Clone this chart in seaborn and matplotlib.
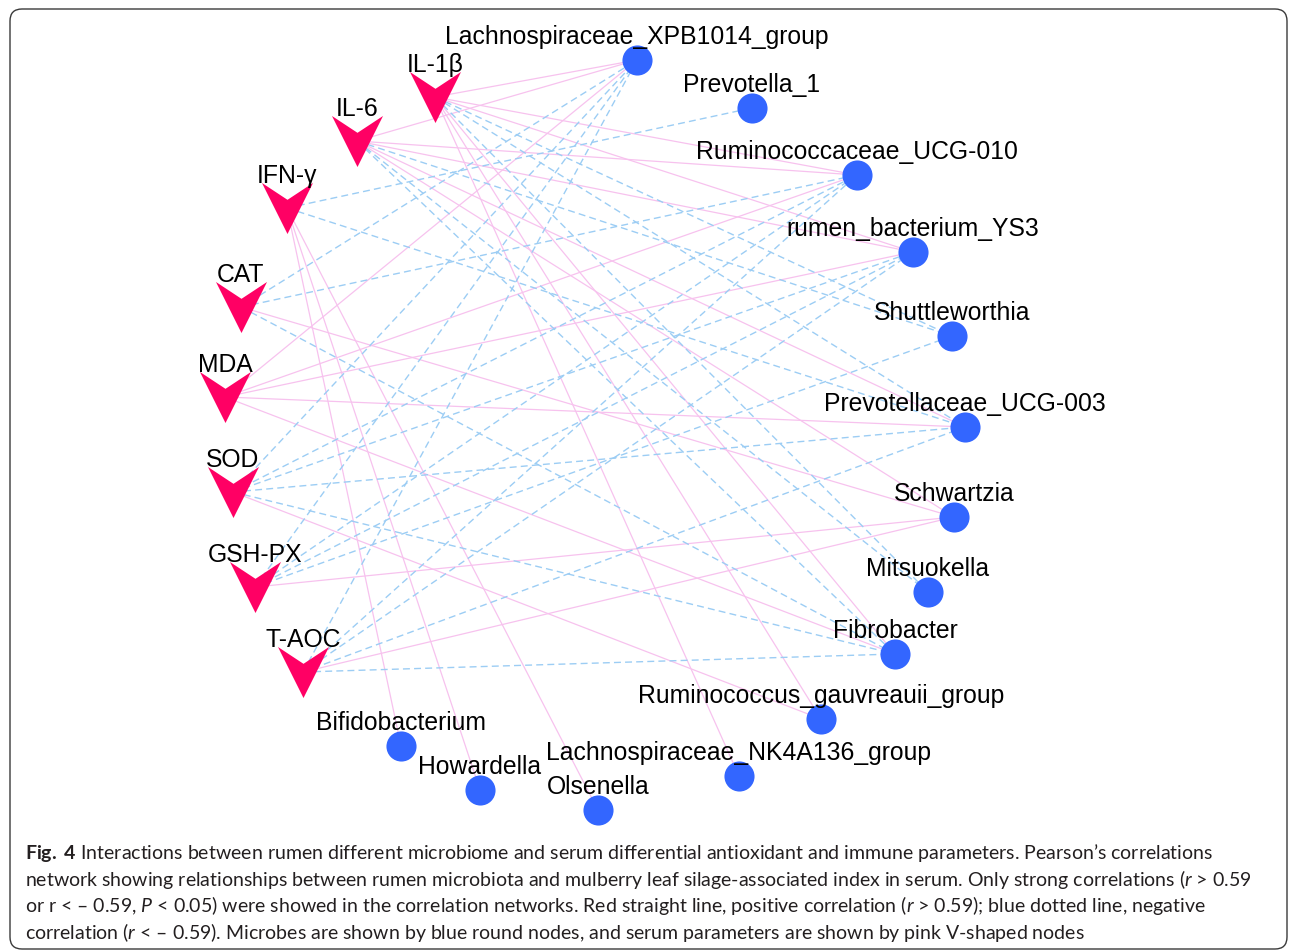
import matplotlib
matplotlib.use("Agg")
import matplotlib.pyplot as plt
from matplotlib.path import Path
from matplotlib.patches import FancyBboxPatch
import pandas as pd
import seaborn as sns

# ---- network content ----
serum = ["IL-1β", "IL-6", "IFN-γ", "CAT", "MDA", "SOD", "GSH-PX", "T-AOC"]
microbes = [
    "Lachnospiraceae_XPB1014_group", "Prevotella_1", "Ruminococcaceae_UCG-010",
    "rumen_bacterium_YS3", "Shuttleworthia", "Prevotellaceae_UCG-003",
    "Schwartzia", "Mitsuokella", "Fibrobacter", "Ruminococcus_gauvreauii_group",
    "Lachnospiraceae_NK4A136_group", "Olsenella", "Howardella", "Bifidobacterium",
]

# positive correlations (r > 0.59)
pos_source = ["IL-1β", "IL-1β", "IL-1β", "IL-1β", "IL-1β", "IL-1β",
              "IL-6", "IL-6", "IL-6", "IL-6", "IL-6",
              "IFN-γ", "IFN-γ", "IFN-γ",
              "CAT",
              "MDA", "MDA", "MDA", "MDA", "MDA",
              "SOD", "GSH-PX", "T-AOC"]
pos_target = ["Lachnospiraceae_XPB1014_group", "Ruminococcaceae_UCG-010", "rumen_bacterium_YS3",
              "Fibrobacter", "Lachnospiraceae_NK4A136_group", "Ruminococcus_gauvreauii_group",
              "Lachnospiraceae_XPB1014_group", "Ruminococcaceae_UCG-010", "rumen_bacterium_YS3",
              "Prevotellaceae_UCG-003", "Schwartzia",
              "Bifidobacterium", "Howardella", "Olsenella",
              "Schwartzia",
              "Lachnospiraceae_XPB1014_group", "Ruminococcaceae_UCG-010", "rumen_bacterium_YS3",
              "Prevotellaceae_UCG-003", "Fibrobacter",
              "Ruminococcus_gauvreauii_group", "Schwartzia", "Schwartzia"]

# negative correlations (r < -0.59)
neg_source = ["IL-1β", "IL-1β", "IL-1β",
              "IL-6", "IL-6", "IL-6",
              "IFN-γ", "IFN-γ",
              "CAT", "CAT", "CAT",
              "SOD", "SOD", "SOD", "SOD", "SOD",
              "GSH-PX", "GSH-PX", "GSH-PX", "GSH-PX",
              "T-AOC", "T-AOC", "T-AOC", "T-AOC", "T-AOC"]
neg_target = ["Shuttleworthia", "Prevotellaceae_UCG-003", "Mitsuokella",
              "Shuttleworthia", "Mitsuokella", "Fibrobacter",
              "Prevotella_1", "Prevotellaceae_UCG-003",
              "Lachnospiraceae_XPB1014_group", "Ruminococcaceae_UCG-010", "Fibrobacter",
              "Lachnospiraceae_XPB1014_group", "Ruminococcaceae_UCG-010", "rumen_bacterium_YS3",
              "Prevotellaceae_UCG-003", "Fibrobacter",
              "Lachnospiraceae_XPB1014_group", "Ruminococcaceae_UCG-010", "rumen_bacterium_YS3",
              "Shuttleworthia",
              "Lachnospiraceae_XPB1014_group", "Ruminococcaceae_UCG-010", "rumen_bacterium_YS3",
              "Prevotellaceae_UCG-003", "Fibrobacter"]

# ---- node layout (canvas units, y downward) ----
layout = {
    "IL-1β": (435, 98), "IL-6": (357, 142), "IFN-γ": (287, 209), "CAT": (241, 308),
    "MDA": (225, 398), "SOD": (233, 493), "GSH-PX": (255, 588), "T-AOC": (303, 673),
    "Lachnospiraceae_XPB1014_group": (637, 61), "Prevotella_1": (752, 109),
    "Ruminococcaceae_UCG-010": (857, 176), "rumen_bacterium_YS3": (913, 253),
    "Shuttleworthia": (952, 337), "Prevotellaceae_UCG-003": (965, 428),
    "Schwartzia": (954, 518), "Mitsuokella": (928, 593), "Fibrobacter": (895, 655),
    "Ruminococcus_gauvreauii_group": (821, 720), "Lachnospiraceae_NK4A136_group": (739, 777),
    "Olsenella": (598, 811), "Howardella": (480, 791), "Bifidobacterium": (401, 747),
}

W, H = 1290, 953
sns.set_theme(style="white")
plt.rcParams["mathtext.fontset"] = "custom"
plt.rcParams["mathtext.rm"] = "Lato"
plt.rcParams["mathtext.it"] = "Lato:italic"
plt.rcParams["mathtext.bf"] = "Lato:bold"

fig = plt.figure(figsize=(W / 100, H / 100), dpi=100)
ax = fig.add_axes([0, 0, 1, 1])
ax.set_xlim(0, W)
ax.set_ylim(H, 0)
ax.axis("off")


def edge_frame(src, dst):
    rows = []
    for i, (a, b) in enumerate(zip(src, dst)):
        for n in (a, b):
            x, y = layout[n]
            rows.append({"edge": i, "x": x, "y": y})
    return pd.DataFrame(rows)


pos_df = edge_frame(pos_source, pos_target)
neg_df = edge_frame(neg_source, neg_target)

sns.lineplot(data=pos_df, x="x", y="y", units="edge", estimator=None, sort=False,
             color="#F7C2EE", linewidth=0.9, ax=ax, zorder=1, legend=False)
sns.lineplot(data=neg_df, x="x", y="y", units="edge", estimator=None, sort=False,
             color="#9CCDF4", linewidth=1.0, linestyle=(0, (5, 3)), ax=ax, zorder=1,
             legend=False)

# V-shaped marker for serum parameters
v_marker = Path([(-0.5, 0.5), (0.0, 0.17), (0.5, 0.5), (0.0, -0.5), (-0.5, 0.5)],
                [Path.MOVETO, Path.LINETO, Path.LINETO, Path.LINETO, Path.CLOSEPOLY])

serum_df = pd.DataFrame({"name": serum,
                         "x": [layout[n][0] for n in serum],
                         "y": [layout[n][1] for n in serum]})
mic_df = pd.DataFrame({"name": microbes,
                       "x": [layout[n][0] for n in microbes],
                       "y": [layout[n][1] for n in microbes]})

sns.scatterplot(data=serum_df, x="x", y="y", marker=v_marker, s=1350,
                color="#FF0064", linewidth=0, ax=ax, zorder=3, legend=False)
sns.scatterplot(data=mic_df, x="x", y="y", marker="o", s=470,
                color="#3366FF", linewidth=0, ax=ax, zorder=3, legend=False)

lab_font = dict(family="Liberation Sans", fontsize=17.8, color="black",
                ha="center", va="center", zorder=4)
for _, r in serum_df.iterrows():
    ax.text(r.x, r.y - 33, r["name"], **lab_font)
for _, r in mic_df.iterrows():
    ax.text(r.x, r.y - 24, r["name"], **lab_font)

# caption
caption = [
    r"$\mathbf{Fig.}$ $\mathbf{4}$ Interactions between rumen different microbiome and serum differential antioxidant and immune parameters. Pearson’s correlations",
    r"network showing relationships between rumen microbiota and mulberry leaf silage-associated index in serum. Only strong correlations ($r$ > 0.59",
    r"or r < – 0.59, $P$ < 0.05) were showed in the correlation networks. Red straight line, positive correlation ($r$ > 0.59); blue dotted line, negative",
    r"correlation ($r$ < – 0.59). Microbes are shown by blue round nodes, and serum parameters are shown by pink V-shaped nodes",
]
for i, line in enumerate(caption):
    ax.text(25, 853 + i * 26.5, line, family="Lato", fontsize=14.0, color="#231F20",
            ha="left", va="center")

frame = FancyBboxPatch((10, 10), 1277, 940, boxstyle="round,pad=0,rounding_size=12",
                       fill=False, edgecolor="#3a3a3a", linewidth=1.0, zorder=5)
ax.add_patch(frame)

fig.savefig("out.png", dpi=100)
